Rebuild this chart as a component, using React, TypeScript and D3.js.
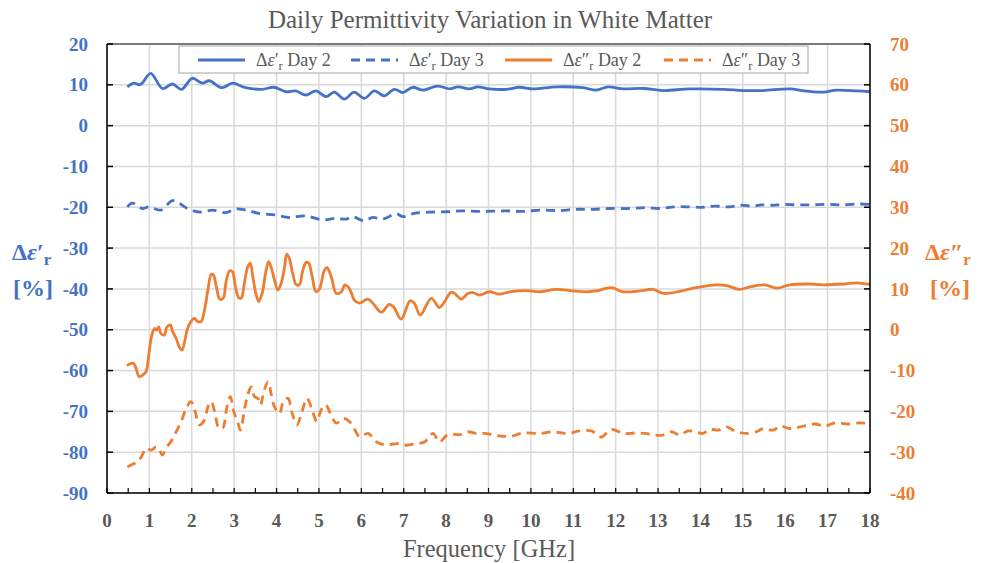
import React from "react";
import * as d3 from "d3";

// ---------- DATA ----------
const xTicks = [0, 1, 2, 3, 4, 5, 6, 7, 8, 9, 10, 11, 12, 13, 14, 15, 16, 17, 18];
const leftTicks = [20, 10, 0, -10, -20, -30, -40, -50, -60, -70, -80, -90];
const rightTicks = [70, 60, 50, 40, 30, 20, 10, 0, -10, -20, -30, -40];

// Δε'r Day 2 (left axis)
const e1d2F = [0.48, 0.64, 0.76, 0.83, 1.03, 1.31, 1.54, 1.76, 2.01, 2.25, 2.41, 2.71, 2.96, 3.27, 3.66, 3.94, 4.22, 4.45, 4.69, 4.93, 5.17, 5.36, 5.6, 5.83, 6.07, 6.31, 6.54, 6.78, 6.98, 7.21, 7.45, 7.8, 8.08, 8.28, 8.55, 8.75, 9.02, 9.42, 9.73, 10.05, 10.6, 11.23, 11.54, 11.82, 12.17, 12.65, 13.12, 13.75, 14.54, 15.01, 15.48, 16.11, 16.43, 16.9, 17.21, 17.69, 18];
const e1d2V = [9.5, 10.4, 10.0, 10.4, 12.8, 9.1, 10.2, 8.9, 11.6, 10.4, 11.0, 9.3, 10.4, 9.3, 8.9, 9.4, 8.3, 8.5, 7.5, 8.5, 7.1, 8.2, 6.5, 8.2, 6.7, 8.5, 7.3, 8.9, 8.1, 9.4, 8.7, 9.7, 9.0, 9.5, 9.0, 9.5, 9.0, 8.9, 9.4, 9.0, 9.5, 9.3, 8.7, 9.5, 9.0, 9.1, 8.6, 9.0, 8.9, 8.6, 8.6, 9.0, 8.5, 8.2, 8.7, 8.5, 8.3];

// Δε'r Day 3 (left axis)
const e1d3F = [0.48, 0.6, 0.83, 0.99, 1.27, 1.54, 1.7, 1.9, 2.21, 2.49, 2.8, 3.04, 3.28, 3.59, 3.98, 4.29, 4.69, 5.08, 5.4, 5.64, 5.79, 6.07, 6.27, 6.5, 6.82, 6.98, 7.25, 7.61, 8.0, 8.39, 8.79, 9.42, 9.81, 10.24, 10.68, 11.07, 11.46, 11.86, 12.33, 12.69, 13.04, 13.39, 13.75, 14.06, 14.34, 14.69, 14.93, 15.24, 15.44, 15.72, 15.95, 16.27, 16.62, 16.98, 17.37, 17.76, 18];
const e1d3V = [-19.9, -19.0, -20.3, -19.9, -20.7, -18.4, -19.0, -20.3, -21.2, -20.7, -21.3, -20.4, -20.7, -21.5, -21.9, -22.5, -22.1, -23.1, -22.7, -22.9, -22.3, -23.3, -22.5, -22.9, -21.6, -22.3, -21.5, -21.2, -21.1, -20.9, -21.0, -20.9, -21.0, -20.7, -20.8, -20.5, -20.5, -20.3, -20.3, -20.1, -20.3, -19.9, -19.9, -20.0, -19.7, -19.9, -19.5, -19.7, -19.4, -19.5, -19.3, -19.4, -19.4, -19.3, -19.4, -19.2, -19.3];

// Δε''r Day 2 (right axis)
const e2d2F = [0.47, 0.61, 0.67, 0.76, 0.84, 0.92, 0.98, 1.05, 1.12, 1.17, 1.22, 1.27, 1.35, 1.41, 1.49, 1.55, 1.63, 1.71, 1.77, 1.84, 1.9, 1.98, 2.06, 2.14, 2.22, 2.3, 2.38, 2.46, 2.51, 2.58, 2.66, 2.74, 2.81, 2.89, 2.96, 3.03, 3.11, 3.17, 3.24, 3.32, 3.38, 3.44, 3.52, 3.58, 3.66, 3.74, 3.81, 3.87, 3.95, 4.03, 4.11, 4.19, 4.24, 4.3, 4.38, 4.46, 4.54, 4.62, 4.7, 4.76, 4.84, 4.93, 5.01, 5.13, 5.19, 5.29, 5.41, 5.53, 5.61, 5.69, 5.77, 5.83, 5.95, 6.15, 6.27, 6.47, 6.66, 6.76, 6.94, 7.15, 7.25, 7.39, 7.65, 7.84, 7.94, 8.12, 8.2, 8.36, 8.51, 8.63, 8.79, 9.02, 9.26, 9.5, 9.89, 10.2, 10.6, 10.99, 11.35, 11.54, 11.9, 12.17, 12.57, 12.88, 13.12, 13.51, 13.83, 14.38, 14.62, 14.93, 15.17, 15.52, 15.8, 16.11, 16.58, 16.9, 17.37, 17.69, 18];
const e2d2V = [-8.8, -8.2, -9.0, -11.5, -11.1, -10.3, -6.6, -1.7, 0.3, -0.1, 0.7, -0.9, -1.3, 0.6, 1.2, -0.5, -2.1, -4.3, -5.0, -2.5, 0.3, 2.0, 2.8, 2.0, 2.0, 4.8, 9.7, 13.6, 13.4, 10.5, 7.5, 7.7, 11.8, 14.4, 14.2, 10.5, 7.8, 7.8, 11.4, 15.4, 16.3, 13.0, 8.5, 6.9, 8.9, 13.8, 16.7, 15.4, 12.2, 9.7, 11.4, 15.4, 18.5, 17.5, 13.8, 11.1, 11.0, 14.6, 16.5, 16.3, 13.0, 9.3, 9.9, 14.6, 15.2, 13.0, 8.9, 9.3, 11.0, 10.5, 8.9, 7.3, 6.5, 7.5, 6.5, 4.3, 6.2, 5.6, 2.6, 7.1, 6.5, 3.6, 7.7, 5.4, 6.5, 9.2, 8.9, 7.5, 8.9, 9.1, 8.5, 9.3, 8.7, 9.3, 9.6, 9.3, 9.9, 9.5, 9.3, 9.5, 10.3, 9.3, 9.5, 9.9, 8.9, 9.4, 10.2, 11.0, 10.8, 9.9, 10.5, 11.0, 10.2, 11.0, 11.2, 11.0, 11.2, 11.5, 11.1];

// Δε''r Day 3 (right axis)
const e2d3F = [0.48, 0.61, 0.73, 0.81, 0.93, 1.04, 1.16, 1.23, 1.31, 1.39, 1.51, 1.63, 1.75, 1.87, 1.98, 2.08, 2.18, 2.3, 2.38, 2.46, 2.54, 2.64, 2.73, 2.83, 2.91, 2.98, 3.09, 3.15, 3.24, 3.32, 3.4, 3.48, 3.56, 3.62, 3.71, 3.8, 3.87, 3.95, 4.07, 4.16, 4.27, 4.37, 4.48, 4.6, 4.72, 4.84, 4.95, 5.05, 5.16, 5.27, 5.41, 5.58, 5.76, 5.96, 6.16, 6.35, 6.55, 6.86, 7.06, 7.29, 7.49, 7.69, 7.84, 8.04, 8.32, 8.51, 8.71, 8.91, 9.14, 9.34, 9.54, 9.81, 10.21, 10.52, 10.87, 11.15, 11.43, 11.66, 11.9, 12.17, 12.45, 12.69, 12.92, 13.12, 13.32, 13.51, 13.71, 13.87, 14.06, 14.22, 14.42, 14.62, 14.77, 14.97, 15.09, 15.32, 15.48, 15.72, 15.88, 16.11, 16.43, 16.7, 16.94, 17.17, 17.49, 17.76, 17.92];
const e2d3V = [-33.6, -32.9, -32.3, -31.1, -29.0, -29.5, -28.7, -29.3, -30.7, -29.0, -27.4, -25.0, -22.5, -19.2, -17.6, -20.1, -23.3, -22.1, -18.9, -17.6, -20.1, -24.1, -24.1, -18.9, -16.4, -19.7, -22.9, -24.6, -19.7, -16.0, -14.0, -16.4, -16.8, -18.4, -14.8, -12.7, -15.6, -18.9, -20.5, -17.6, -16.8, -20.5, -23.3, -20.1, -16.8, -19.7, -22.5, -19.7, -18.4, -20.5, -22.9, -21.7, -22.9, -26.2, -25.4, -27.4, -28.2, -27.9, -28.3, -27.9, -27.5, -25.4, -27.5, -25.7, -25.7, -25.0, -25.4, -25.4, -25.8, -26.1, -26.1, -25.3, -25.4, -25.0, -25.4, -24.8, -24.8, -26.3, -24.4, -25.4, -25.3, -25.4, -25.8, -25.8, -25.0, -25.8, -24.8, -25.0, -25.4, -24.4, -24.6, -23.8, -24.6, -25.3, -25.4, -25.0, -24.2, -24.6, -23.6, -24.2, -23.6, -23.1, -23.6, -22.8, -23.1, -22.8, -22.9];

const BLUE = "#4472C4";
const ORANGE = "#ED7D31";
const GREY = "#595959";
const FONT = '"Liberation Serif", "Times New Roman", Times, "DejaVu Serif", "Noto Serif", serif';

const W = 982;
const H = 563;
const M = { left: 107, right: 870, top: 44, bottom: 493 };

function EpsLabel({ primes, size, tail }: { primes: string; size: number; tail?: string }) {
  return (
    <>
      <tspan>Δ</tspan>
      <tspan style={{ fontStyle: "italic" }}>ε</tspan>
      <tspan>{primes}</tspan>
      <tspan style={{ fontSize: size * 0.7 }} dy={size * 0.22}>r</tspan>
      {tail ? <tspan dy={-size * 0.22}>{tail}</tspan> : null}
    </>
  );
}

export default function App() {
  const x = d3.scaleLinear().domain([0, 18]).range([M.left, M.right]);
  const yL = d3.scaleLinear().domain([-90, 20]).range([M.bottom, M.top]);
  const yR = d3.scaleLinear().domain([-40, 70]).range([M.bottom, M.top]);

  const zip = (f: number[], v: number[]) => f.map((ff, i) => [ff, v[i]] as [number, number]);
  const lineL = d3.line<[number, number]>().x((d) => x(d[0])).y((d) => yL(d[1])).curve(d3.curveCatmullRom.alpha(0.5));
  const lineR = d3.line<[number, number]>().x((d) => x(d[0])).y((d) => yR(d[1])).curve(d3.curveCatmullRom.alpha(0.5));

  const minorX = d3.range(0, 18.01, 0.5);

  const legendItems = [
    { x0: 198, color: BLUE, dash: undefined, primes: "′", label: " Day 2" },
    { x0: 351, color: BLUE, dash: "9,6", primes: "′", label: " Day 3" },
    { x0: 505, color: ORANGE, dash: undefined, primes: "″", label: " Day 2" },
    { x0: 664, color: ORANGE, dash: "9,6", primes: "″", label: " Day 3" },
  ];

  const txt = { fontFamily: FONT } as React.CSSProperties;

  return (
    <svg width={W} height={H} style={{ position: "absolute", left: 0, top: 0, background: "#fff", fontFamily: FONT }}>
      <rect x={0} y={0} width={W} height={H} fill="#fff" />
      {/* grid */}
      {xTicks.map((t) => (
        <line key={"gx" + t} x1={x(t)} x2={x(t)} y1={M.top} y2={M.bottom} stroke="#d9d9d9" strokeWidth={1.5} />
      ))}
      {leftTicks.map((t) => (
        <line key={"gy" + t} x1={M.left} x2={M.right} y1={yL(t)} y2={yL(t)} stroke="#d9d9d9" strokeWidth={1.5} />
      ))}
      {/* top border */}
      <line x1={M.left} x2={M.right} y1={M.top} y2={M.top} stroke="#595959" strokeWidth={1.5} />

      {/* series */}
      <path d={lineL(zip(e1d2F, e1d2V)) || ""} fill="none" stroke={BLUE} strokeWidth={2.8} />
      <path d={lineL(zip(e1d3F, e1d3V)) || ""} fill="none" stroke={BLUE} strokeWidth={2.8} strokeDasharray="9,6" />
      <path d={lineR(zip(e2d2F, e2d2V)) || ""} fill="none" stroke={ORANGE} strokeWidth={2.8} />
      <path d={lineR(zip(e2d3F, e2d3V)) || ""} fill="none" stroke={ORANGE} strokeWidth={2.8} strokeDasharray="9,6" />

      {/* axes */}
      <line x1={M.left} x2={M.left} y1={M.top} y2={M.bottom} stroke="#000" strokeWidth={1.5} />
      <line x1={M.right} x2={M.right} y1={M.top} y2={M.bottom} stroke="#000" strokeWidth={1.5} />
      <line x1={M.left} x2={M.right} y1={M.bottom} y2={M.bottom} stroke="#000" strokeWidth={1.5} />
      {leftTicks.map((t) => (
        <line key={"lt" + t} x1={M.left} x2={M.left + 6} y1={yL(t)} y2={yL(t)} stroke="#000" strokeWidth={1.5} />
      ))}
      {rightTicks.map((t) => (
        <line key={"rt" + t} x1={M.right - 6} x2={M.right} y1={yR(t)} y2={yR(t)} stroke="#000" strokeWidth={1.5} />
      ))}
      {minorX.map((t) => (
        <line key={"xt" + t} x1={x(t)} x2={x(t)} y1={M.bottom - 5} y2={M.bottom} stroke="#000" strokeWidth={1.2} />
      ))}

      {/* tick labels */}
      {leftTicks.map((t) => (
        <text key={"ll" + t} style={txt} x={88} y={yL(t)} dy="0.35em" textAnchor="end" fill={BLUE} fontWeight="bold" fontSize={19}>
          {t}
        </text>
      ))}
      {rightTicks.map((t) => (
        <text key={"rl" + t} style={txt} x={890} y={yR(t)} dy="0.35em" textAnchor="start" fill={ORANGE} fontWeight="bold" fontSize={19}>
          {t}
        </text>
      ))}
      {xTicks.map((t) => (
        <text key={"xl" + t} style={txt} x={x(t)} y={520} dy="0.35em" textAnchor="middle" fill={GREY} fontWeight="bold" fontSize={19}>
          {t}
        </text>
      ))}

      {/* titles */}
      <text style={txt} x={490} y={28} textAnchor="middle" fill={GREY} fontSize={25}>
        Daily Permittivity Variation in White Matter
      </text>
      <text style={txt} x={489} y={557} textAnchor="middle" fill={GREY} fontSize={24.5}>
        Frequency [GHz]
      </text>
      <text style={txt} x={12} y={260} fill={BLUE} fontWeight="bold" fontSize={24}>
        <EpsLabel primes="′" size={24} />
      </text>
      <text style={txt} x={13} y={296} fill={BLUE} fontWeight="bold" fontSize={24}>[%]</text>
      <text style={txt} x={925} y={260} fill={ORANGE} fontWeight="bold" fontSize={24}>
        <EpsLabel primes="″" size={24} />
      </text>
      <text style={txt} x={930} y={296} fill={ORANGE} fontWeight="bold" fontSize={24}>[%]</text>

      {/* legend */}
      <rect x={179} y={46} width={629} height={27} fill="#fff" stroke="#a6a6a6" strokeWidth={1} />
      {legendItems.map((it, i) => (
        <g key={"lg" + i}>
          <line x1={it.x0} x2={it.x0 + 47} y1={60} y2={60} stroke={it.color} strokeWidth={2.8} strokeDasharray={it.dash} />
          <text style={txt} x={it.x0 + 58} y={60} dy="0.35em" fill={GREY} fontSize={18}>
            <EpsLabel primes={it.primes} size={18} tail={it.label} />
          </text>
        </g>
      ))}
    </svg>
  );
}
